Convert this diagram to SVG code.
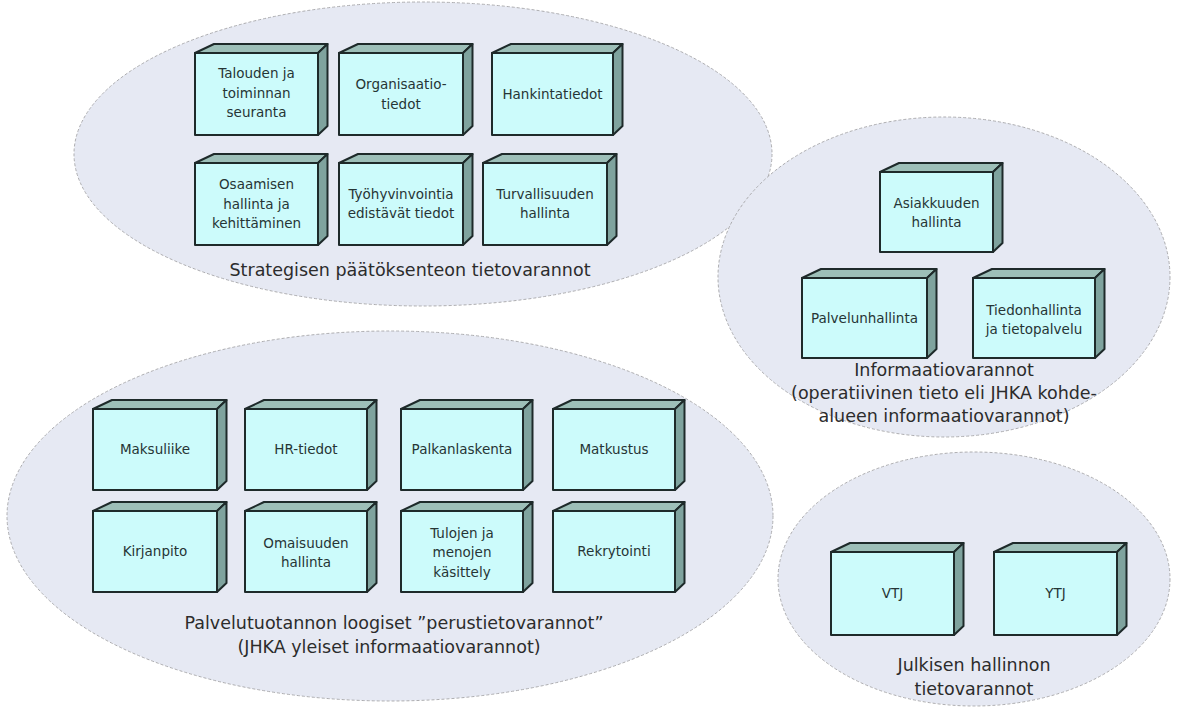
<svg xmlns="http://www.w3.org/2000/svg" width="1177" height="713" viewBox="0 0 1177 713">
  <defs>
    <style>
      .area { fill: #e6e9f3; stroke: #adadb0; stroke-width: 1; stroke-dasharray: 3 2; }
      .front { fill: #ccfbfb; stroke: #1e2a2a; stroke-width: 2; stroke-linejoin: round; }
      .top { fill: #9dbfb8; stroke: #1e2a2a; stroke-width: 2; stroke-linejoin: round; }
      .side { fill: #7fa39e; stroke: #1e2a2a; stroke-width: 2; stroke-linejoin: round; }
      .lbl { font-family: "DejaVu Sans", "Liberation Sans", sans-serif; font-size: 13.5px; fill: #263535; text-anchor: middle; }
      .cap { font-family: "DejaVu Sans", "Liberation Sans", sans-serif; font-size: 17.5px; fill: #2c2c2c; text-anchor: middle; }
    </style>
  </defs>
  <rect width="1177" height="713" fill="#ffffff"/>

  <!-- Group areas -->
  <g id="areas">
    <ellipse id="area-strategic" class="area" cx="423" cy="154" rx="349" ry="152"/>
    <ellipse id="area-info" class="area" cx="944" cy="277" rx="226" ry="160"/>
    <ellipse id="area-basic" class="area" cx="390" cy="516" rx="383" ry="185"/>
    <ellipse id="area-public" class="area" cx="974" cy="579" rx="196" ry="127"/>
  </g>

  <!-- Area captions -->
  <g id="captions">
    <text class="cap" x="410" y="276">Strategisen päätöksenteon tietovarannot</text>
    <text class="cap" x="944" y="376">Informaatiovarannot</text>
    <text class="cap" x="944" y="399">(operatiivinen tieto eli JHKA kohde-</text>
    <text class="cap" x="944" y="422">alueen informaatiovarannot)</text>
    <text class="cap" x="394" y="629">Palvelutuotannon loogiset ”perustietovarannot”</text>
    <text class="cap" x="389" y="653">(JHKA yleiset informaatiovarannot)</text>
    <text class="cap" x="974" y="671">Julkisen hallinnon</text>
    <text class="cap" x="974" y="695">tietovarannot</text>
  </g>

  <!-- Boxes: front face at (x,y,w,h); top and side faces offset 19/9.5 px back -->
  <g id="n-talous">
    <polygon class="top" points="195,53 214,44 327.5,44 318,53"/>
    <polygon class="side" points="318,53 327.5,44 327.5,126 318,135"/>
    <rect class="front" x="195" y="53" width="123" height="82"/>
    <text class="lbl" x="256.5" y="78">Talouden ja</text>
    <text class="lbl" x="256.5" y="97.5">toiminnan</text>
    <text class="lbl" x="256.5" y="117">seuranta</text>
  </g>
  <g id="n-organisaatio">
    <polygon class="top" points="339,53 358,44 472.5,44 463,53"/>
    <polygon class="side" points="463,53 472.5,44 472.5,126 463,135"/>
    <rect class="front" x="339" y="53" width="124" height="82"/>
    <text class="lbl" x="401" y="89">Organisaatio-</text>
    <text class="lbl" x="401" y="108.5">tiedot</text>
  </g>
  <g id="n-hankinta">
    <polygon class="top" points="492,53 511,44 622.5,44 613,53"/>
    <polygon class="side" points="613,53 622.5,44 622.5,126 613,135"/>
    <rect class="front" x="492" y="53" width="121" height="82"/>
    <text class="lbl" x="552.5" y="98.5">Hankintatiedot</text>
  </g>
  <g id="n-osaaminen">
    <polygon class="top" points="195,163 214,154 327.5,154 318,163"/>
    <polygon class="side" points="318,163 327.5,154 327.5,236 318,245"/>
    <rect class="front" x="195" y="163" width="123" height="82"/>
    <text class="lbl" x="256.5" y="189">Osaamisen</text>
    <text class="lbl" x="256.5" y="208.5">hallinta ja</text>
    <text class="lbl" x="256.5" y="228">kehittäminen</text>
  </g>
  <g id="n-tyohyvinvointi">
    <polygon class="top" points="339,163 358,154 472.5,154 463,163"/>
    <polygon class="side" points="463,163 472.5,154 472.5,236 463,245"/>
    <rect class="front" x="339" y="163" width="124" height="82"/>
    <text class="lbl" x="401" y="199">Työhyvinvointia</text>
    <text class="lbl" x="401" y="218">edistävät tiedot</text>
  </g>
  <g id="n-turvallisuus">
    <polygon class="top" points="483,163 502,154 616.5,154 607,163"/>
    <polygon class="side" points="607,163 616.5,154 616.5,236 607,245"/>
    <rect class="front" x="483" y="163" width="124" height="82"/>
    <text class="lbl" x="545" y="199">Turvallisuuden</text>
    <text class="lbl" x="545" y="218">hallinta</text>
  </g>

  <g id="n-asiakkuus">
    <polygon class="top" points="880,172 899,163 1002.5,163 993,172"/>
    <polygon class="side" points="993,172 1002.5,163 1002.5,243 993,252"/>
    <rect class="front" x="880" y="172" width="113" height="80"/>
    <text class="lbl" x="936.5" y="207.5">Asiakkuuden</text>
    <text class="lbl" x="936.5" y="226.5">hallinta</text>
  </g>
  <g id="n-palvelunhallinta">
    <polygon class="top" points="802,278 821,269 936.5,269 927,278"/>
    <polygon class="side" points="927,278 936.5,269 936.5,349 927,358"/>
    <rect class="front" x="802" y="278" width="125" height="80"/>
    <text class="lbl" x="864.5" y="322.5">Palvelunhallinta</text>
  </g>
  <g id="n-tiedonhallinta">
    <polygon class="top" points="973,278 992,269 1104.5,269 1095,278"/>
    <polygon class="side" points="1095,278 1104.5,269 1104.5,349 1095,358"/>
    <rect class="front" x="973" y="278" width="122" height="80"/>
    <text class="lbl" x="1034" y="314.5">Tiedonhallinta</text>
    <text class="lbl" x="1034" y="334">ja tietopalvelu</text>
  </g>

  <g id="n-maksuliike">
    <polygon class="top" points="93,409 112,400 226.5,400 217,409"/>
    <polygon class="side" points="217,409 226.5,400 226.5,481 217,490"/>
    <rect class="front" x="93" y="409" width="124" height="81"/>
    <text class="lbl" x="155" y="454">Maksuliike</text>
  </g>
  <g id="n-hr">
    <polygon class="top" points="245,409 264,400 376.5,400 367,409"/>
    <polygon class="side" points="367,409 376.5,400 376.5,481 367,490"/>
    <rect class="front" x="245" y="409" width="122" height="81"/>
    <text class="lbl" x="306" y="454">HR-tiedot</text>
  </g>
  <g id="n-palkanlaskenta">
    <polygon class="top" points="401,409 420,400 532.5,400 523,409"/>
    <polygon class="side" points="523,409 532.5,400 532.5,481 523,490"/>
    <rect class="front" x="401" y="409" width="122" height="81"/>
    <text class="lbl" x="462" y="454">Palkanlaskenta</text>
  </g>
  <g id="n-matkustus">
    <polygon class="top" points="553,409 572,400 684.5,400 675,409"/>
    <polygon class="side" points="675,409 684.5,400 684.5,481 675,490"/>
    <rect class="front" x="553" y="409" width="122" height="81"/>
    <text class="lbl" x="614" y="454">Matkustus</text>
  </g>
  <g id="n-kirjanpito">
    <polygon class="top" points="93,511 112,502 226.5,502 217,511"/>
    <polygon class="side" points="217,511 226.5,502 226.5,583 217,592"/>
    <rect class="front" x="93" y="511" width="124" height="81"/>
    <text class="lbl" x="155" y="556">Kirjanpito</text>
  </g>
  <g id="n-omaisuus">
    <polygon class="top" points="245,511 264,502 376.5,502 367,511"/>
    <polygon class="side" points="367,511 376.5,502 376.5,583 367,592"/>
    <rect class="front" x="245" y="511" width="122" height="81"/>
    <text class="lbl" x="306" y="547.5">Omaisuuden</text>
    <text class="lbl" x="306" y="567">hallinta</text>
  </g>
  <g id="n-tulot-menot">
    <polygon class="top" points="401,511 420,502 532.5,502 523,511"/>
    <polygon class="side" points="523,511 532.5,502 532.5,583 523,592"/>
    <rect class="front" x="401" y="511" width="122" height="81"/>
    <text class="lbl" x="462" y="537.5">Tulojen ja</text>
    <text class="lbl" x="462" y="557">menojen</text>
    <text class="lbl" x="462" y="576.5">käsittely</text>
  </g>
  <g id="n-rekrytointi">
    <polygon class="top" points="553,511 572,502 684.5,502 675,511"/>
    <polygon class="side" points="675,511 684.5,502 684.5,583 675,592"/>
    <rect class="front" x="553" y="511" width="122" height="81"/>
    <text class="lbl" x="614" y="556">Rekrytointi</text>
  </g>

  <g id="n-vtj">
    <polygon class="top" points="831,552 850,543 963.5,543 954,552"/>
    <polygon class="side" points="954,552 963.5,543 963.5,626 954,635"/>
    <rect class="front" x="831" y="552" width="123" height="83"/>
    <text class="lbl" x="892.5" y="598">VTJ</text>
  </g>
  <g id="n-ytj">
    <polygon class="top" points="994,552 1013,543 1126.5,543 1117,552"/>
    <polygon class="side" points="1117,552 1126.5,543 1126.5,626 1117,635"/>
    <rect class="front" x="994" y="552" width="123" height="83"/>
    <text class="lbl" x="1055.5" y="598">YTJ</text>
  </g>

  <!-- No connectors in this picture -->
  <g id="connectors"/>
</svg>
